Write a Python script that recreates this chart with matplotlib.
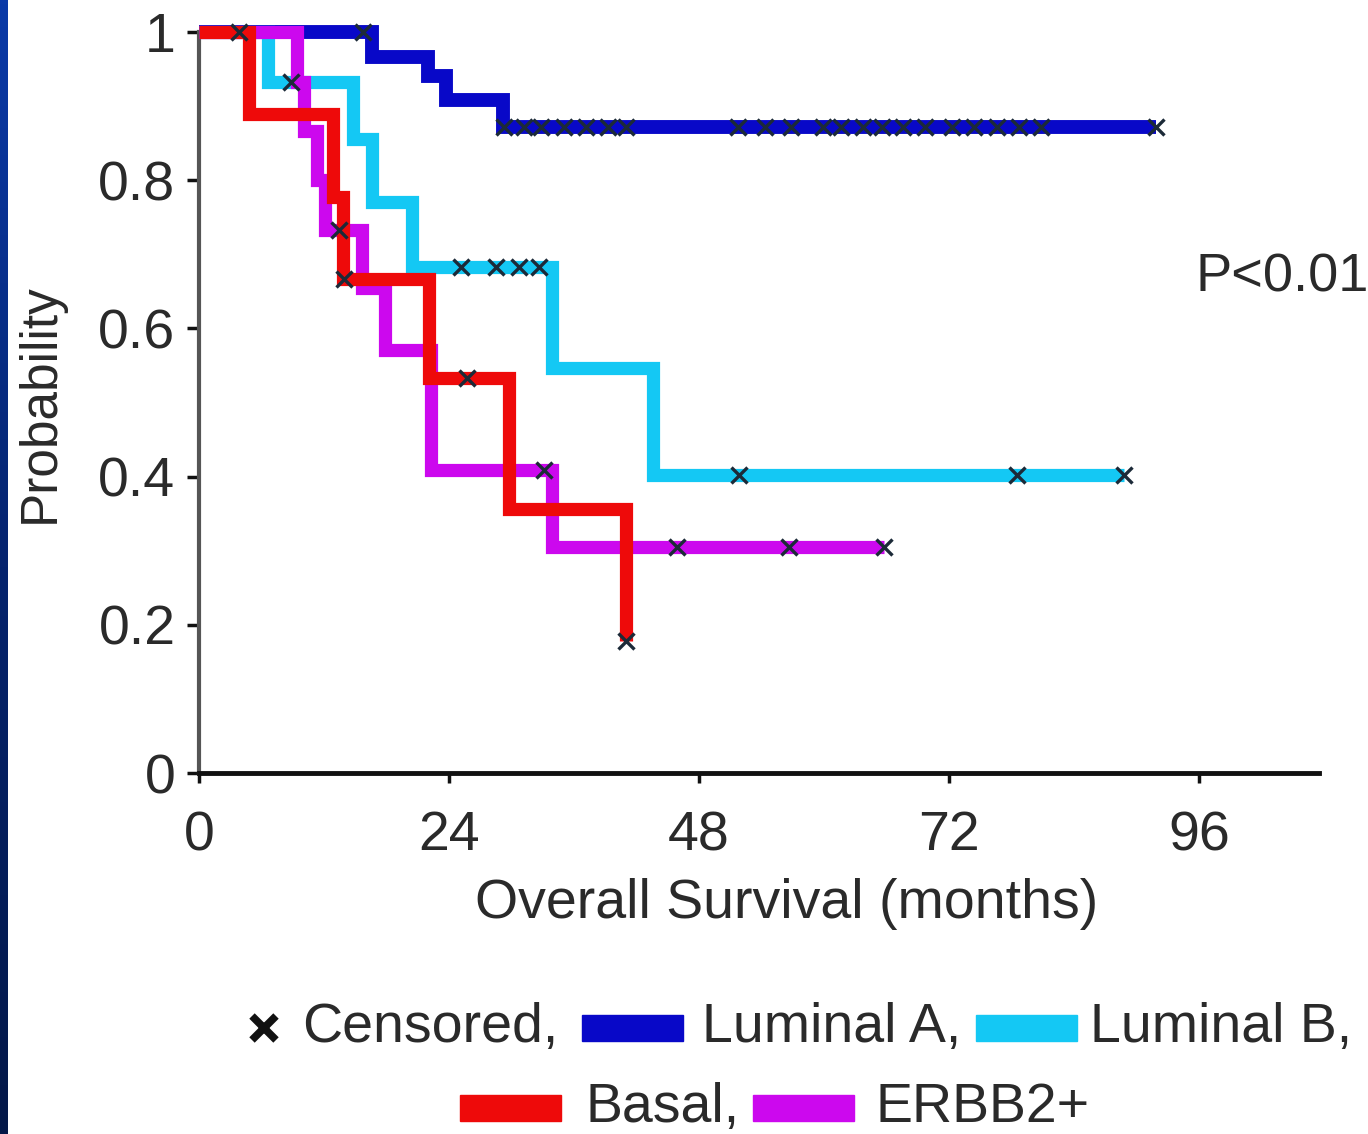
import numpy as np
import matplotlib
matplotlib.use('Agg')
import matplotlib.pyplot as plt
from matplotlib.patches import Rectangle
from matplotlib.lines import Line2D

plt.rcParams['font.family'] = ['Liberation Sans', 'DejaVu Sans']

# Kaplan-Meier steps: event times (months) and survival after each step
lumA_times = [16.6, 22.0, 23.7, 29.2, 91.9]
lumA_surv = [0.966, 0.940, 0.908, 0.872, 0.872]
lumA_cens = [3.8, 15.7, 29.3, 31.2, 32.8, 35.0, 37.1, 39.3, 41.0,
             51.7, 54.3, 56.8, 59.9, 61.6, 63.7,
             65.6, 67.6, 69.7, 72.3, 74.4, 76.6, 78.7, 80.8, 91.9]

lumB_times = [6.6, 14.8, 16.6, 20.4, 33.9, 43.6, 88.8]
lumB_surv = [0.933, 0.855, 0.770, 0.683, 0.547, 0.402, 0.402]
lumB_cens = [8.8, 25.1, 28.5, 30.7, 32.6, 51.8, 78.5, 88.8]

basal_times = [4.8, 12.9, 13.8, 22.1, 29.8, 41.0]
basal_surv = [0.889, 0.778, 0.667, 0.533, 0.356, 0.178]
basal_cens = [13.9, 25.7, 41.0]

erbb2_times = [9.4, 10.1, 11.3, 12.1, 15.6, 17.9, 22.3, 33.9, 65.7]
erbb2_surv = [0.933, 0.867, 0.800, 0.733, 0.655, 0.571, 0.409, 0.305, 0.305]
erbb2_cens = [13.4, 33.1, 45.9, 56.6, 65.7]

x_ticks = [0, 24, 48, 72, 96]
y_ticks = [0, 0.2, 0.4, 0.6, 0.8, 1]
y_ticklabels = ['0', '0.2', '0.4', '0.6', '0.8', '1']

groups = [
    ('Luminal A', lumA_times, lumA_surv, lumA_cens, '#0808c8', 10),
    ('Luminal B', lumB_times, lumB_surv, lumB_cens, '#14c8f4', 9.5),
    ('ERBB2+', erbb2_times, erbb2_surv, erbb2_cens, '#cc08ee', 9.5),
    ('Basal', basal_times, basal_surv, basal_cens, '#ee0a0a', 9.5),
]

TXT = '#2a2a2a'
FS = 40

fig = plt.figure(figsize=(13.68, 11.34), dpi=100)
W, H = 1368, 1134

# dark strip of the slide background on the left
strip = fig.add_axes([0, 0, 8 / W, 1])
grad = np.linspace(0, 1, 256).reshape(-1, 1)
strip.imshow(grad, aspect='auto', cmap=matplotlib.colors.LinearSegmentedColormap.from_list(
    'bg', ['#0a3aa8', '#06246e', '#041848']))
strip.axis('off')

ax = fig.add_axes([199 / W, 1 - 773 / H, 1120 / W, 741 / H])


def surv_at(times, surv, t):
    # value of the step function at time t
    idx = np.searchsorted(times, t, side='right')
    return 1.0 if idx == 0 else surv[idx - 1]


for name, times, surv, cens, color, lw in groups:
    tt = [0] + list(times)
    ss = [1.0] + list(surv)
    ax.plot(tt, ss, drawstyle='steps-post', color=color, lw=lw,
            solid_capstyle='butt', solid_joinstyle='miter', clip_on=False, zorder=3)

for name, times, surv, cens, color, lw in groups:
    cy = [surv_at(times, surv, c) for c in cens]
    ax.plot(cens, cy, linestyle='none', marker='x', markersize=11, mew=2.4,
            color='#1c2a38', clip_on=False, zorder=5)

ax.set_xlim(0, 107.5)
ax.set_ylim(0, 1)
ax.set_xticks(x_ticks)
ax.set_xticklabels([str(v) for v in x_ticks])
ax.set_yticks(y_ticks)
ax.set_yticklabels(y_ticklabels)

for s in ['top', 'right']:
    ax.spines[s].set_visible(False)
ax.spines['left'].set_color('#555555')
ax.spines['left'].set_linewidth(3)
ax.spines['bottom'].set_color('#111111')
ax.spines['bottom'].set_linewidth(3.5)
ax.tick_params(axis='y', direction='out', length=9, width=2.5, color='#111111',
               labelsize=FS, labelcolor=TXT, pad=8)
ax.tick_params(axis='x', direction='out', length=7, width=2.5, color='#111111',
               labelsize=FS, labelcolor=TXT, pad=20)

fig.text(787 / W, 1 - 904 / H, 'Overall Survival (months)', ha='center', va='center',
         fontsize=FS, color=TXT)
fig.text(40 / W, 1 - 403 / H, 'Probability', ha='center', va='center', rotation=90,
         fontsize=37, color=TXT)
fig.text(1195 / W, 1 - 277 / H, 'P<0.01', ha='left', va='center', fontsize=39,
         color=TXT)

# legend, built by hand in two centred rows
row1, row2 = 1 - 1028 / H, 1 - 1108 / H
fig.add_artist(Line2D([264 / W], [row1], marker='x', markersize=17, mew=5.5,
                      color='#111111', transform=fig.transFigure))
fig.text(302 / W, row1, 'Censored,', ha='left', va='center', fontsize=FS, color=TXT)
fig.text(702 / W, row1, 'Luminal A,', ha='left', va='center', fontsize=FS, color=TXT)
fig.text(1090 / W, row1, 'Luminal B,', ha='left', va='center', fontsize=FS, color=TXT)
fig.text(585 / W, row2, 'Basal,', ha='left', va='center', fontsize=FS, color=TXT)
fig.text(875 / W, row2, 'ERBB2+', ha='left', va='center', fontsize=FS, color=TXT)

patches = [(582, row1, groups[0][4]), (976, row1, groups[1][4]),
           (460, row2, groups[3][4]), (753, row2, groups[2][4])]
for px, ry, col in patches:
    fig.add_artist(Rectangle((px / W, ry - 13 / H), 101 / W, 26 / H, color=col,
                             transform=fig.transFigure))

fig.savefig('out.png', dpi=100)
